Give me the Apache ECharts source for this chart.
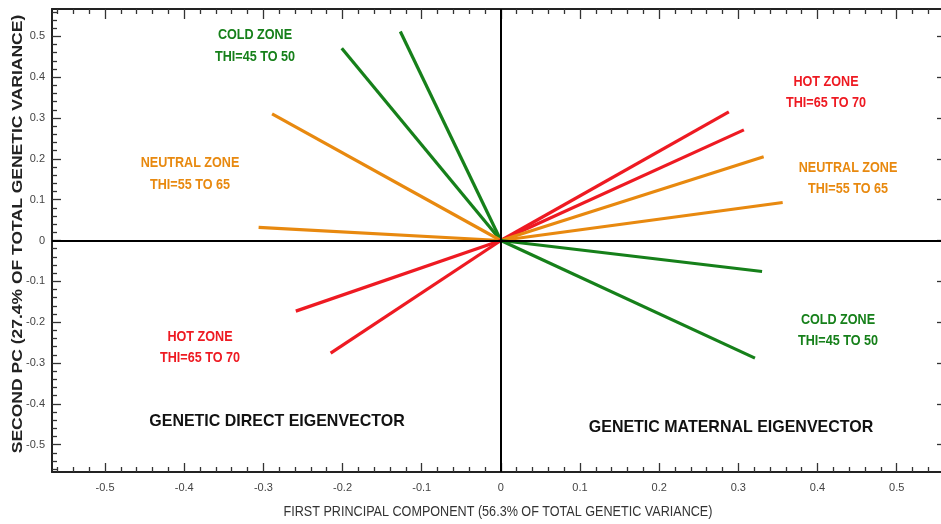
<!DOCTYPE html>
<html>
<head>
<meta charset="utf-8">
<script src="https://cdn.jsdelivr.net/npm/echarts@6/dist/echarts.min.js"></script>
<style>html,body{margin:0;padding:0;background:#fff}#c{width:941px;height:524px}</style>
</head>
<body>
<div id="c"></div>
<script>
// ---- data ----
const xTicks = [-0.5, -0.4, -0.3, -0.2, -0.1, 0, 0.1, 0.2, 0.3, 0.4, 0.5];
const yTicks = [-0.5, -0.4, -0.3, -0.2, -0.1, 0, 0.1, 0.2, 0.3, 0.4, 0.5];
const vectorNames = ['Direct cold 1','Direct cold 2','Direct neutral 1','Direct neutral 2','Direct hot 1','Direct hot 2',
                     'Maternal hot 1','Maternal hot 2','Maternal neutral 1','Maternal neutral 2','Maternal cold 1','Maternal cold 2'];
const vectorZone = ['cold','cold','neutral','neutral','hot','hot','hot','hot','neutral','neutral','cold','cold'];
const vectorX = [-0.127, -0.201, -0.289, -0.306, -0.259, -0.215, 0.288, 0.307, 0.332, 0.356, 0.330, 0.321];
const vectorY = [0.512, 0.471, 0.310, 0.032, -0.173, -0.276, 0.315, 0.271, 0.205, 0.093, -0.076, -0.288];
const xMin = -0.567, xMax = 0.556;
const yMin = -0.567, yMax = 0.567;

const zoneColor = {cold: '#16801a', neutral: '#e8890f', hot: '#ee1a22'};
const sans = '"Liberation Sans",Arial,sans-serif';

const minorX = [], minorY = [];
for (let i = -28; i <= 27; i++) { if (i % 5 !== 0) minorX.push(+(i * 0.02).toFixed(2)); }
for (let i = -28; i <= 28; i++) { if (i % 5 !== 0) minorY.push(+(i * 0.02).toFixed(2)); }

const fmt = v => (Math.abs(v) < 1e-9 ? '0' : String(+v.toFixed(1)));

function ax(pos, min, max, ticks, len, labels, line, margin) {
  return {
    type: 'value', position: pos, min: min, max: max, gridIndex: 0,
    axisLine: {show: line, onZero: false, lineStyle: {color: '#222', width: 2}},
    axisTick: {show: true, inside: true, length: len, customValues: ticks, lineStyle: {color: '#333', width: 1.3}},
    axisLabel: labels ? {show: true, customValues: ticks, formatter: fmt, color: '#444', fontSize: 11, fontFamily: sans, margin: margin} : {show: false},
    splitLine: {show: false}
  };
}

const series = vectorX.map((x, i) => ({
  name: vectorNames[i], type: 'line', xAxisIndex: 0, yAxisIndex: 0,
  data: [[0, 0], [x, vectorY[i]]], symbol: 'none', silent: true,
  lineStyle: {color: zoneColor[vectorZone[i]], width: 3.2}, z: 3
}));
series.push({
  type: 'line', data: [], xAxisIndex: 0, yAxisIndex: 0, silent: true,
  markLine: {symbol: 'none', silent: true, label: {show: false}, animation: false,
    lineStyle: {color: '#000', width: 2, type: 'solid'},
    data: [{xAxis: 0}, {yAxis: 0}]}
});

function txt(x, y, s, color, size, weight, sx) {
  return {type: 'text', x: x, y: y, z: 10, scaleX: sx || 0.9,
    style: {text: s, fill: color, font: (weight || 'bold') + ' ' + size + 'px ' + sans, textAlign: 'center', textVerticalAlign: 'middle'}};
}

const chart = echarts.init(document.getElementById('c'), null, {renderer: 'canvas'});
chart.setOption({
  animation: false,
  backgroundColor: '#fff',
  grid: {left: 52, right: 0, top: 9, bottom: 52, containLabel: false},
  xAxis: [ax('bottom', xMin, xMax, xTicks, 9, true, true, 10), ax('bottom', xMin, xMax, minorX, 5, false, false),
          ax('top', xMin, xMax, xTicks, 10, false, true), ax('top', xMin, xMax, minorX, 5, false, false)],
  yAxis: [ax('left', yMin, yMax, yTicks, 9, true, true, 7), ax('left', yMin, yMax, minorY, 5, false, false),
          ax('right', yMin, yMax, yTicks, 4, false, false)],
  series: series,
  graphic: [
    txt(255, 35, 'COLD ZONE', zoneColor.cold, 14), txt(255, 57, 'THI=45 TO 50', zoneColor.cold, 14),
    txt(190, 163, 'NEUTRAL ZONE', zoneColor.neutral, 14), txt(190, 185, 'THI=55 TO 65', zoneColor.neutral, 14),
    txt(200, 337, 'HOT ZONE', zoneColor.hot, 14), txt(200, 358, 'THI=65 TO 70', zoneColor.hot, 14),
    txt(826, 82, 'HOT ZONE', zoneColor.hot, 14), txt(826, 103, 'THI=65 TO 70', zoneColor.hot, 14),
    txt(848, 168, 'NEUTRAL ZONE', zoneColor.neutral, 14), txt(848, 189, 'THI=55 TO 65', zoneColor.neutral, 14),
    txt(838, 320, 'COLD ZONE', zoneColor.cold, 14), txt(838, 341, 'THI=45 TO 50', zoneColor.cold, 14),
    txt(277, 421, 'GENETIC DIRECT EIGENVECTOR', '#111', 17, 'bold', 0.94),
    txt(731, 427, 'GENETIC MATERNAL EIGENVECTOR', '#111', 17, 'bold', 0.94),
    txt(498, 512, 'FIRST PRINCIPAL COMPONENT (56.3% OF TOTAL GENETIC VARIANCE)', '#333', 14, 'normal', 0.9),
    {type: 'text', x: 18, y: 234, rotation: Math.PI / 2, scaleX: 1.25, z: 10,
     style: {text: 'SECOND PC (27.4% OF TOTAL GENETIC VARIANCE)', fill: '#222', font: 'bold 14px ' + sans, textAlign: 'center', textVerticalAlign: 'middle'}}
  ]
});
</script>
</body>
</html>
